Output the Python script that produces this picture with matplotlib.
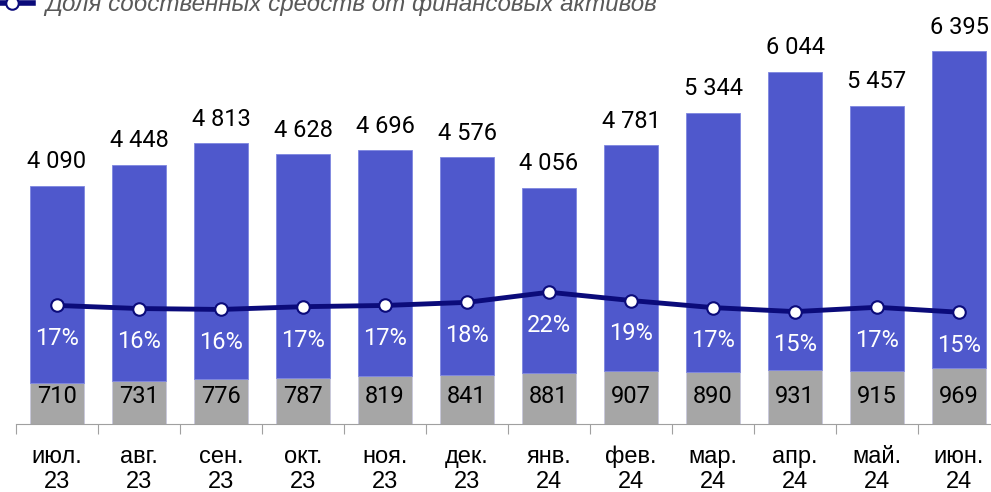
import matplotlib
matplotlib.use("Agg")
import matplotlib.pyplot as plt
from matplotlib.lines import Line2D

plt.rcParams['font.family'] = ['Roboto', 'DejaVu Sans']

months = ["июл.", "авг.", "сен.", "окт.", "ноя.", "дек.",
          "янв.", "фев.", "мар.", "апр.", "май.", "июн."]
years = ["23", "23", "23", "23", "23", "23", "24", "24", "24", "24", "24", "24"]
total = [4090, 4448, 4813, 4628, 4696, 4576, 4056, 4781, 5344, 6044, 5457, 6395]
own = [710, 731, 776, 787, 819, 841, 881, 907, 890, 931, 915, 969]
share = [17.4, 16.4, 16.1, 17.0, 17.4, 18.4, 21.7, 19.0, 16.7, 15.4, 16.8, 15.2]
share_lbl = ["17%", "16%", "16%", "17%", "17%", "18%", "22%", "19%", "17%", "15%", "17%", "15%"]

blue = "#4F58CC"
grey = "#A6A6A6"
navy = "#0B0B7A"

W, H = 991, 492
fig = plt.figure(figsize=(W/100, H/100), dpi=100)
ax = fig.add_axes([16/W, (H-424)/H, 984/W, 408/H])

x = list(range(len(months)))
rest = [t - o for t, o in zip(total, own)]
ax.bar(x, own, width=0.66, color=grey, edgecolor="#C8C8DC", linewidth=0.6)
ax.bar(x, rest, bottom=own, width=0.66, color=blue, edgecolor="#7E86E0", linewidth=0.6)

for i in x:
    ax.annotate(f"{total[i]:,}".replace(",", " "), (i, total[i]), xytext=(0, 9),
                textcoords="offset points", ha="center", va="bottom", fontsize=17, color="black")
    ax.text(i, 470, str(own[i]), ha="center", va="center", fontsize=17, color="black")

ax.set_xlim(-0.5, 11.5)
ax.set_ylim(0, 7000)
ax.set_yticks([])
for s in ["top", "right", "left"]:
    ax.spines[s].set_visible(False)
ax.spines["bottom"].set_color("#A0A0A0")
ax.set_xticks([i - 0.5 for i in x])
ax.set_xticklabels([])
ax.tick_params(axis="x", length=7, color="#A0A0A0")
lab_font = ["Liberation Sans", "DejaVu Sans"]
for i in x:
    ax.text(i, -566, months[i], ha="center", va="center", fontsize=17, family=lab_font)
    ax.text(i, -995, years[i], ha="center", va="center", fontsize=17, family=lab_font)

ax2 = ax.twinx()
ax2.set_ylim(-21.1, 111.4)
ax2.axis("off")
ax2.plot(x, share, color=navy, lw=3.5, marker="o", ms=9, mfc="white", mec=navy, mew=1.5)
for i in x:
    ax2.annotate(share_lbl[i], (i, share[i]), xytext=(0, -24), textcoords="offset points",
                 ha="center", va="center", fontsize=17, color="white")

fig.add_artist(Line2D([0, 33/W], [(H-3)/H, (H-3)/H], color=navy, lw=4))
fig.add_artist(Line2D([12/W], [(H-3)/H], color=navy, marker="o", ms=9, mfc="white", mec=navy, mew=1.5))
fig.text(45/W, (H-11)/H, "Доля собственных средств от финансовых активов", ha="left", va="baseline",
         fontsize=17.4, style="italic", color="#595959", family=lab_font)

fig.savefig("out.png", dpi=100)
